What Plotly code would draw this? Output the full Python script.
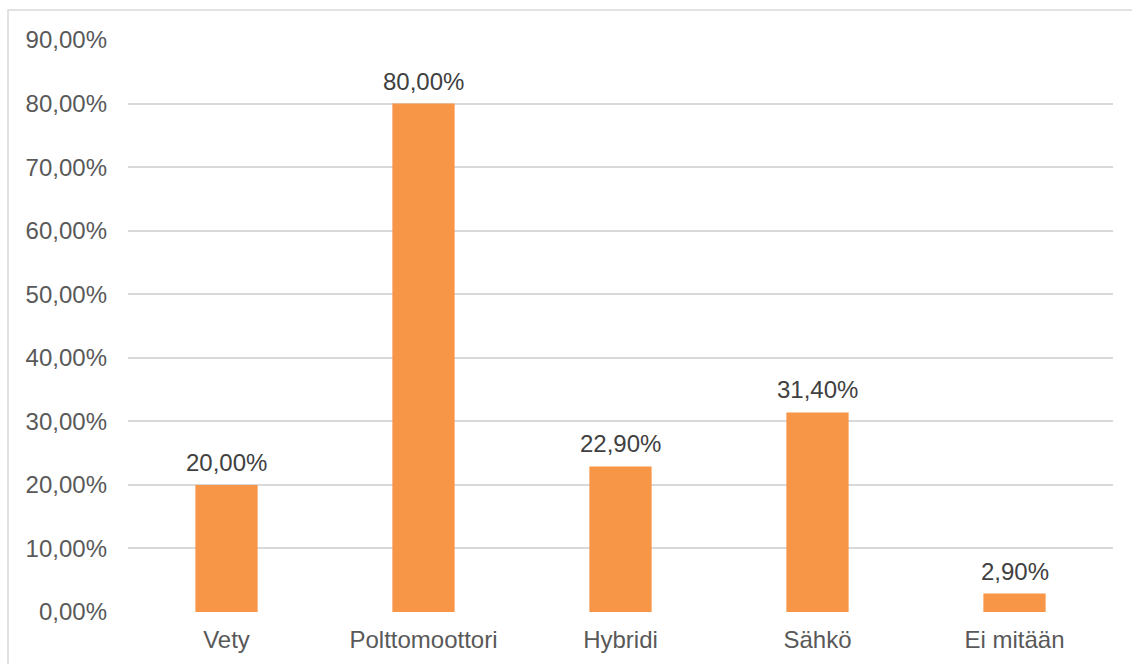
import plotly.graph_objects as go

categories = ["Vety", "Polttomoottori", "Hybridi", "Sähkö", "Ei mitään"]
values = [0.20, 0.80, 0.229, 0.314, 0.029]
tick_vals = [0, 0.1, 0.2, 0.3, 0.4, 0.5, 0.6, 0.7, 0.8, 0.9]

W, H = 1132, 664
ML, MR, MT, MB = 128, 19, 40, 51.5
FONT = "Liberation Sans, Arial, sans-serif"
FS = 24

fig = go.Figure()
fig.add_trace(go.Bar(
    x=categories, y=values,
    marker=dict(color="#F79646", line=dict(width=0)),
    hoverinfo="skip",
))

for c, v in zip(categories, values):
    fig.add_annotation(
        x=c, y=v, xref="x", yref="y",
        text=f"{v*100:.2f}%".replace(".", ","),
        showarrow=False, yanchor="bottom", yshift=7,
        font=dict(family=FONT, size=FS, color="#404040"),
    )

pw = W - ML - MR
ph = H - MT - MB
fig.add_shape(
    type="rect", xref="paper", yref="paper",
    x0=(8 - ML) / pw, x1=(W + 5 - ML) / pw,
    y0=-(H + 5 - MT - ph) / ph, y1=(H - MB - 10) / ph,
    line=dict(color="#D9D9D9", width=1.5), fillcolor="rgba(0,0,0,0)",
    layer="below",
)

fig.update_layout(
    width=W, height=H,
    margin=dict(l=ML, r=MR, t=MT, b=MB),
    paper_bgcolor="white", plot_bgcolor="white",
    separators=", ",
    bargap=0.684,
    showlegend=False,
    font=dict(family=FONT, size=FS, color="#595959"),
    xaxis=dict(
        showgrid=False, showline=False, zeroline=False,
        ticks="", ticklabelstandoff=11,
        tickfont=dict(family=FONT, size=FS, color="#595959"),
    ),
    yaxis=dict(
        range=[0, 0.9], tickvals=tick_vals, tickformat=".2%",
        showgrid=True, gridcolor="#D9D9D9", gridwidth=1.5,
        zeroline=False, showline=False, ticks="",
        ticklabelstandoff=20,
        tickfont=dict(family=FONT, size=FS, color="#595959"),
    ),
)

fig.write_html("out.html")
